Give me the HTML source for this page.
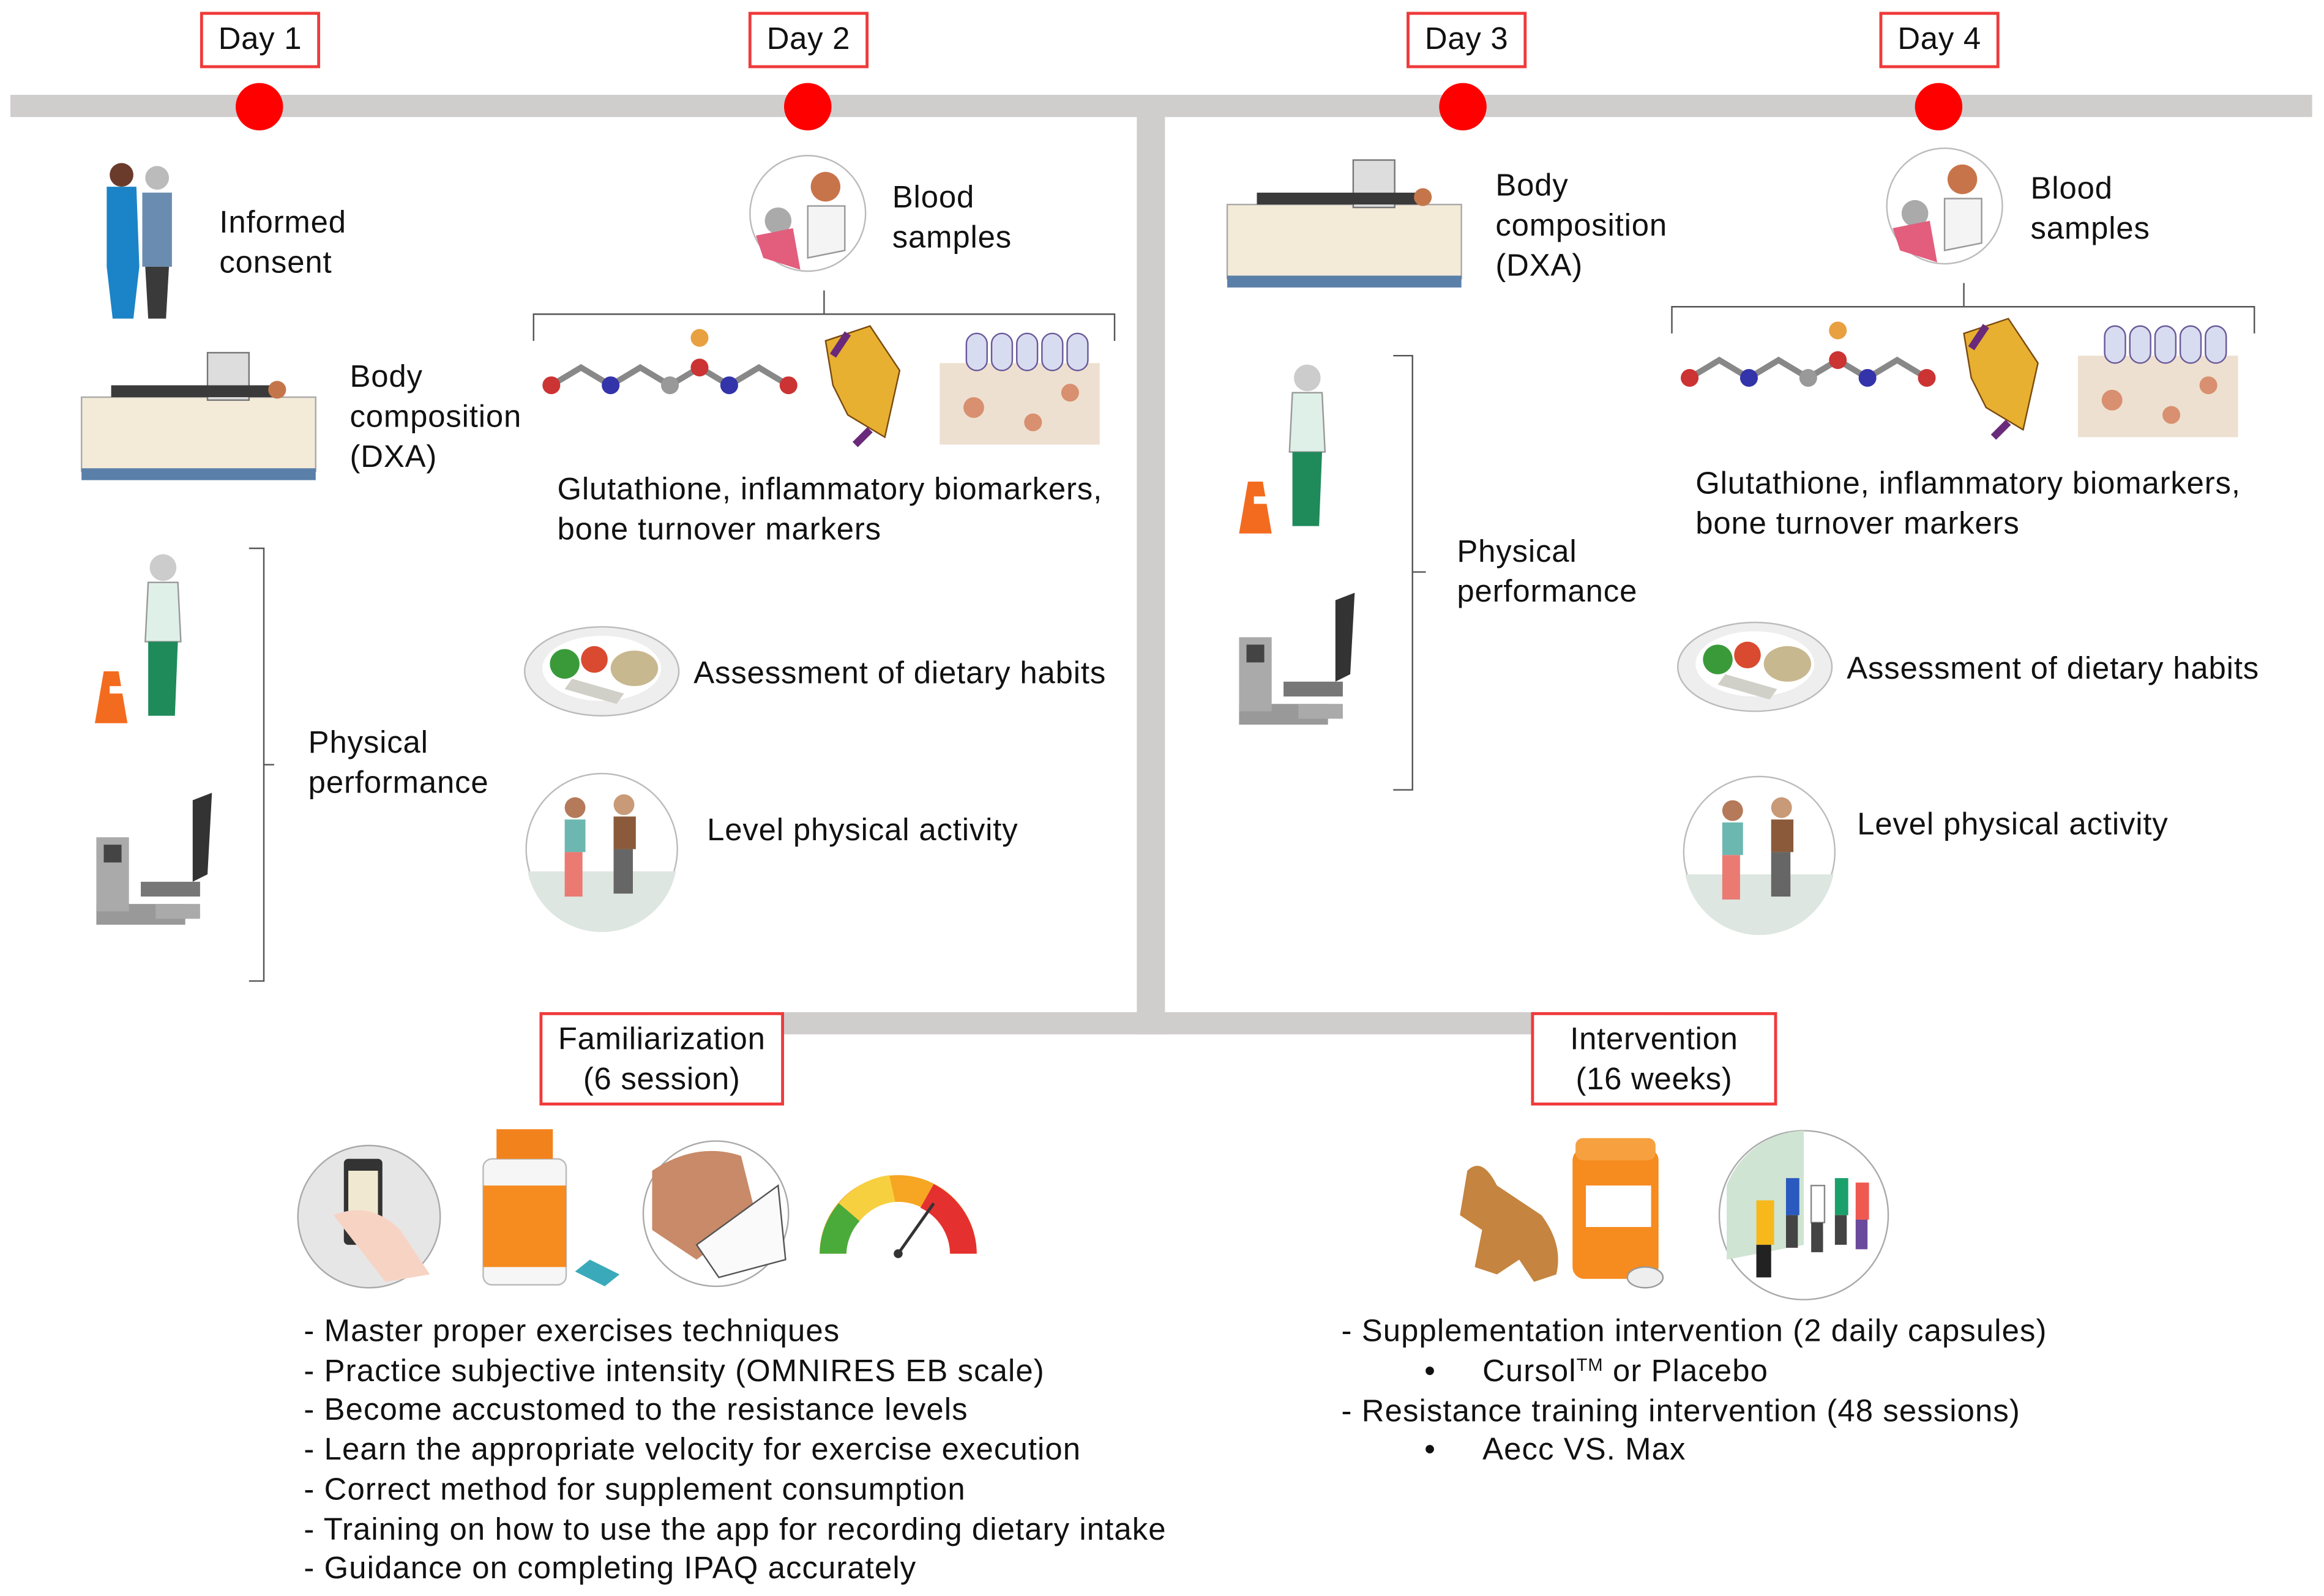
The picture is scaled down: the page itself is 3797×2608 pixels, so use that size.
<!DOCTYPE html>
<html><head><meta charset="utf-8"><style>
html,body{margin:0;padding:0;background:#fff;overflow:hidden}
#o{width:3797px;height:2608px;position:relative;overflow:hidden;background:#fff}
#s{position:absolute;left:0;top:0;width:1568px;height:1077px;transform:scale(2.42156);transform-origin:0 0;font-family:"Liberation Sans",Arial,sans-serif;color:#111}
.a{position:absolute}
.t{position:absolute;font-size:21px;letter-spacing:0.35px;line-height:27px;white-space:nowrap}
.box{position:absolute;border:2px solid #f03a3a;background:#fff;font-size:21px;letter-spacing:0.3px;text-align:center;box-sizing:border-box}
.dot{position:absolute;width:32px;height:32px;border-radius:50%;background:#f00}
.bar{position:absolute;background:#d0cdcd}
.l{position:absolute;font-size:21px;letter-spacing:0.45px;line-height:26.7px;white-space:nowrap}
sup{font-size:12px;line-height:0;vertical-align:7px}
</style></head><body><div id="o"><div id="s">
<div class="bar" style="left:7px;top:64px;width:1553px;height:15px"></div>
<div class="bar" style="left:767px;top:64px;width:19px;height:634px"></div>
<div class="bar" style="left:440px;top:683px;width:680px;height:15px"></div>
<div class="dot" style="left:159px;top:56px"></div>
<div class="dot" style="left:529px;top:56px"></div>
<div class="dot" style="left:971px;top:56px"></div>
<div class="dot" style="left:1292px;top:56px"></div>
<div class="box" style="left:135px;top:8px;width:81px;height:38px;line-height:34px">Day 1</div>
<div class="box" style="left:505px;top:8px;width:81px;height:38px;line-height:34px">Day 2</div>
<div class="box" style="left:949px;top:8px;width:81px;height:38px;line-height:34px">Day 3</div>
<div class="box" style="left:1268px;top:8px;width:81px;height:38px;line-height:34px">Day 4</div>
<div class="box" style="left:364px;top:683px;width:165px;height:63px;line-height:27px;padding-top:3px">Familiarization<br>(6 session)</div>
<div class="box" style="left:1033px;top:683px;width:166px;height:63px;line-height:27px;padding-top:3px">Intervention<br>(16 weeks)</div>

<svg class="a" style="left:0;top:0" width="1568" height="1077" viewBox="0 0 1568 1077">
<defs>
<g id="bed"><rect x="0" y="30" width="158" height="50" fill="#f3ead8" stroke="#aaa"/><rect x="0" y="78" width="158" height="8" fill="#5a7fa8"/><rect x="85" y="0" width="28" height="32" fill="#ddd" stroke="#777"/><rect x="20" y="22" width="110" height="8" fill="#3a3a3a"/><circle cx="132" cy="25" r="6" fill="#c4764a"/></g>
<g id="blood"><circle cx="0" cy="0" r="39" fill="#fff" stroke="#bbb"/><circle cx="12" cy="-18" r="10" fill="#c8744a"/><path d="M0 -5 L25 -5 L25 25 L0 30Z" fill="#f4f4f4" stroke="#999"/><circle cx="-20" cy="5" r="9" fill="#aaa"/><path d="M-35 15 L-10 10 L-5 38 L-30 30Z" fill="#e35d7d"/></g>
<g id="mol"><path d="M0 40 L20 28 L40 40 L60 28 L80 40 L100 28 L120 40 L140 28 L160 40" stroke="#888" stroke-width="4" fill="none"/><circle cx="0" cy="40" r="6" fill="#c33"/><circle cx="40" cy="40" r="6" fill="#33a"/><circle cx="80" cy="40" r="6" fill="#999"/><circle cx="100" cy="28" r="6" fill="#c33"/><circle cx="120" cy="40" r="6" fill="#33a"/><circle cx="100" cy="8" r="6" fill="#e8a040"/><circle cx="160" cy="40" r="6" fill="#c33"/>
<path d="M185 10 L215 0 L235 30 L225 75 L200 60 L190 40Z" fill="#e8b030" stroke="#7a4a10"/><path d="M190 20 L200 5 M215 70 L205 80" stroke="#6a2a7a" stroke-width="5"/>
<rect x="262" y="25" width="108" height="55" fill="#eee0d0"/><circle cx="285" cy="55" r="7" fill="#d89070"/><circle cx="325" cy="65" r="6" fill="#d89070"/><circle cx="350" cy="45" r="6" fill="#d89070"/>
<g fill="#d8dcf0" stroke="#6a5a9a"><rect x="280" y="5" width="14" height="25" rx="7"/><rect x="297" y="5" width="14" height="25" rx="7"/><rect x="314" y="5" width="14" height="25" rx="7"/><rect x="331" y="5" width="14" height="25" rx="7"/><rect x="348" y="5" width="14" height="25" rx="7"/></g></g>
<g id="plate"><ellipse cx="0" cy="0" rx="52" ry="30" fill="#eee" stroke="#bbb"/><ellipse cx="0" cy="-2" rx="40" ry="22" fill="#fff"/><circle cx="-25" cy="-5" r="10" fill="#3a9a3a"/><circle cx="-5" cy="-8" r="9" fill="#d94a30"/><ellipse cx="22" cy="-2" rx="16" ry="12" fill="#c8b890"/><path d="M-20 5 L15 15 L10 22 L-25 12Z" fill="#d0d0c8"/></g>
<g id="walk"><circle cx="0" cy="0" r="51" fill="#fff" stroke="#bbb"/><path d="M-50 15 A51 51 0 0 0 50 15Z" fill="#dde6e0"/><circle cx="-18" cy="-28" r="7" fill="#b57a5a"/><rect x="-25" y="-20" width="14" height="22" fill="#6cb8b0"/><rect x="-25" y="2" width="12" height="30" fill="#ea7a72"/><circle cx="15" cy="-30" r="7" fill="#c89a78"/><rect x="8" y="-22" width="15" height="22" fill="#8a5a3a"/><rect x="8" y="0" width="13" height="30" fill="#666"/></g>
<g id="woman"><circle cx="0" cy="0" r="9" fill="#ccc"/><path d="M-10 10 L10 10 L12 50 L-12 50Z" fill="#dff0e8" stroke="#999"/><path d="M-10 50 L10 50 L8 100 L-10 100Z" fill="#1f8a5a"/><path d="M-40 70 L-30 70 L-24 105 L-46 105Z" fill="#f36b1f"/><rect x="-36" y="80" width="10" height="5" fill="#fff"/></g>
<g id="bike"><rect x="-60" y="55" width="60" height="14" fill="#999"/><rect x="-60" y="10" width="22" height="50" fill="#aaa"/><rect x="-55" y="15" width="12" height="12" fill="#444"/><path d="M-30 40 L10 40 L10 50 L-30 50Z" fill="#777"/><path d="M5 -15 L18 -20 L15 35 L5 40Z" fill="#333"/><rect x="-20" y="55" width="30" height="10" fill="#aaa"/></g>
</defs>
<g transform="translate(70,110)"><circle cx="12" cy="8" r="8" fill="#6a3a2a"/><path d="M2 16 L22 16 L24 70 L20 105 L6 105 L2 70Z" fill="#1b84c8"/><circle cx="36" cy="10" r="8" fill="#bbb"/><path d="M26 20 L46 20 L46 70 L26 70Z" fill="#6a8cb0"/><path d="M28 70 L44 70 L42 105 L30 105Z" fill="#3a3a3a"/></g>
<use href="#bed" transform="translate(55,238)"/>
<use href="#woman" transform="translate(110,383)"/>
<use href="#bike" transform="translate(125,555)"/>
<path d="M168 370 L178 370 L178 516 L185 516 L178 516 L178 662 L168 662" stroke="#555" fill="none"/>
<use href="#blood" transform="translate(545,144)"/>
<path d="M360 230 L360 212 L752 212 L752 230 M556 212 L556 196" stroke="#555" fill="none"/>
<use href="#mol" transform="translate(372,220)"/>
<use href="#plate" transform="translate(406,453)"/>
<use href="#walk" transform="translate(406,573)"/>
<use href="#bed" transform="translate(828,108)"/>
<use href="#woman" transform="translate(882,255)"/>
<use href="#bike" transform="translate(896,420)"/>
<path d="M940 240 L953 240 L953 386 L962 386 L953 386 L953 533 L940 533" stroke="#555" fill="none"/>
<use href="#blood" transform="translate(1312,139)"/>
<path d="M1128 225 L1128 207 L1521 207 L1521 225 M1325 207 L1325 191" stroke="#555" fill="none"/>
<use href="#mol" transform="translate(1140,215)"/>
<use href="#plate" transform="translate(1184,450)"/>
<use href="#walk" transform="translate(1187,575)"/>
<circle cx="249" cy="821" r="48" fill="#e6e6e6" stroke="#aaa"/>
<rect x="232" y="782" width="26" height="58" rx="3" fill="#333"/><rect x="235" y="790" width="20" height="42" fill="#f0e8d0"/><path d="M225 820 Q250 810 270 830 L290 860 L260 865Z" fill="#f7d3c4"/>
<rect x="326" y="782" width="56" height="85" rx="6" fill="#f6f6f6" stroke="#bbb"/><rect x="335" y="762" width="38" height="20" fill="#f2821c"/><rect x="326" y="800" width="56" height="55" fill="#f68b1f"/>
<path d="M388 858 L398 850 L418 860 L408 868Z" fill="#3aaabb"/>
<circle cx="483" cy="819" r="49" fill="#fff" stroke="#aaa"/><path d="M440 790 Q470 770 500 780 L510 820 L470 850 L440 830Z" fill="#c88a68"/><path d="M470 840 L525 800 L530 850 L485 862Z" fill="#fafafa" stroke="#555"/>
<path d="M553 846 A53 53 0 0 1 659 846 L641 846 A35 35 0 0 0 571 846Z" fill="#f6a623"/>
<path d="M553 846 A53 53 0 0 1 566 812 L580 824 A35 35 0 0 0 571 846Z" fill="#4aaa3a"/>
<path d="M566 812 A53 53 0 0 1 600 793 L604 811 A35 35 0 0 0 580 824Z" fill="#f7d040"/>
<path d="M630 799 A53 53 0 0 1 659 846 L641 846 A35 35 0 0 0 621 815Z" fill="#e53030"/>
<path d="M606 846 L630 812" stroke="#333" stroke-width="2"/><circle cx="606" cy="846" r="3" fill="#333"/>
<path d="M990 790 Q1000 780 1010 800 L1040 820 Q1055 840 1050 860 L1035 865 L1025 850 L1010 860 L995 855 L1000 830 L985 820Z" fill="#c5843f"/>
<rect x="1061" y="775" width="58" height="88" rx="8" fill="#f68b1f"/><rect x="1063" y="768" width="54" height="15" rx="5" fill="#f7a040"/><rect x="1070" y="800" width="44" height="28" fill="#fff"/>
<ellipse cx="1110" cy="862" rx="12" ry="7" fill="#eee" stroke="#999"/>
<circle cx="1217" cy="820" r="57" fill="#fff" stroke="#aaa"/><path d="M1165 800 A57 57 0 0 1 1217 763 L1217 840 L1165 850Z" fill="#cfe4d2"/>
<rect x="1185" y="810" width="12" height="30" fill="#f7b81c"/><rect x="1185" y="840" width="10" height="22" fill="#222"/>
<rect x="1205" y="795" width="9" height="25" fill="#2a5ac0"/><rect x="1222" y="800" width="9" height="25" fill="#fff" stroke="#888"/><rect x="1238" y="795" width="9" height="25" fill="#1aa06a"/><rect x="1252" y="798" width="9" height="25" fill="#ef5a50"/>
<rect x="1205" y="820" width="8" height="22" fill="#444"/><rect x="1222" y="825" width="8" height="20" fill="#444"/><rect x="1238" y="820" width="8" height="20" fill="#444"/><rect x="1252" y="823" width="8" height="20" fill="#6a4a9a"/>
</svg>

<div class="t" style="left:148px;top:137px">Informed<br>consent</div>
<div class="t" style="left:236px;top:241px">Body<br>composition<br>(DXA)</div>
<div class="t" style="left:208px;top:488px">Physical<br>performance</div>
<div class="t" style="left:602px;top:120px">Blood<br>samples</div>
<div class="t" style="left:376px;top:317px">Glutathione, inflammatory biomarkers,<br>bone turnover markers</div>
<div class="t" style="left:468px;top:441px">Assessment of dietary habits</div>
<div class="t" style="left:477px;top:547px">Level physical activity</div>
<div class="t" style="left:1009px;top:112px">Body<br>composition<br>(DXA)</div>
<div class="t" style="left:983px;top:359px">Physical<br>performance</div>
<div class="t" style="left:1370px;top:114px">Blood<br>samples</div>
<div class="t" style="left:1144px;top:313px">Glutathione, inflammatory biomarkers,<br>bone turnover markers</div>
<div class="t" style="left:1246px;top:438px">Assessment of dietary habits</div>
<div class="t" style="left:1253px;top:543px">Level physical activity</div>

<div class="l" style="left:205px;top:886px">- Master proper exercises techniques<br>- Practice subjective intensity (OMNIRES EB scale)<br>- Become accustomed to the resistance levels<br>- Learn the appropriate velocity for exercise execution<br>- Correct method for supplement consumption<br>- Training on how to use the app for recording dietary intake<br>- Guidance on completing IPAQ accurately</div>
<div class="l" style="left:905px;top:886px">- Supplementation intervention (2 daily capsules)</div>
<div class="l" style="left:961px;top:913px">•&nbsp;&nbsp;&nbsp;&nbsp;&nbsp;Cursol<sup>TM</sup> or Placebo</div>
<div class="l" style="left:905px;top:940px">- Resistance training intervention (48 sessions)</div>
<div class="l" style="left:961px;top:966px">•&nbsp;&nbsp;&nbsp;&nbsp;&nbsp;Aecc VS. Max</div>
</div></div></body></html>
